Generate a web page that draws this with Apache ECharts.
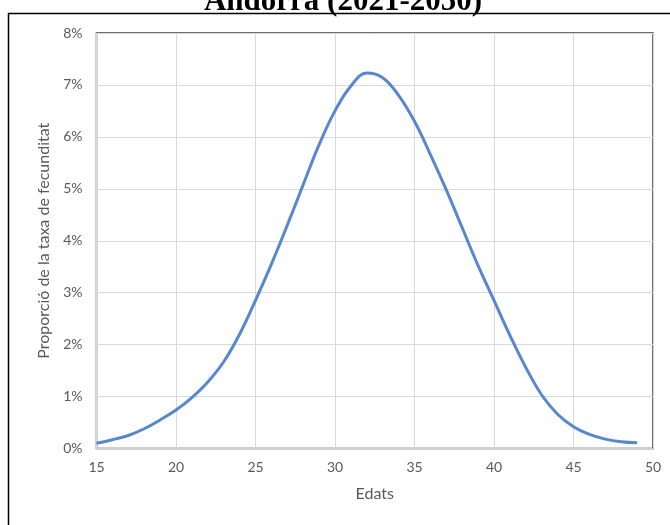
<!DOCTYPE html>
<html>
<head>
    <meta charset="UTF-8">
    <title>Andorra (2021-2050)</title>
    <script src="https://cdnjs.cloudflare.com/ajax/libs/echarts/6.0.0/echarts.min.js"></script>
    <style>
        html, body { margin: 0; padding: 0; background: #fff; }
    </style>
</head>
<body>
    <div id="main" style="width: 670px; height: 525px;"></div>

    <script>
        // Edats (15..49) i proporció de la taxa de fecunditat (%)
        var ages = [15, 16, 17, 18, 19, 20, 21, 22, 23, 24, 25, 26, 27, 28, 29, 30, 31, 32,
                    33, 34, 35, 36, 37, 38, 39, 40, 41, 42, 43, 44, 45, 46, 47, 48, 49];
        var share = [0.10, 0.17, 0.25, 0.38, 0.55, 0.74, 0.98, 1.28, 1.67, 2.20, 2.85, 3.55,
                     4.30, 5.08, 5.85, 6.50, 6.98, 7.23, 7.14, 6.80, 6.30, 5.66, 4.98, 4.25,
                     3.52, 2.85, 2.18, 1.56, 1.03, 0.66, 0.42, 0.27, 0.18, 0.13, 0.11];
        var xTicks = [15, 50, 5];   // min, max, interval
        var yTicks = [0, 8, 1];

        var chartTitle = 'Andorra (2021-2050)';
        var xName = 'Edats';
        var yName = 'Proporció de la taxa de fecunditat';

        var seriesData = ages.map(function (a, i) { return [a, share[i]]; });

        var labelFont = 'Lato, "Open Sans", sans-serif';
        var myChart = echarts.init(document.getElementById('main'));

        var option = {
            animation: false,
            backgroundColor: '#fff',
            graphic: [
                {
                    type: 'rect',
                    silent: true,
                    shape: { x: 8.5, y: 13.5, width: 700, height: 600 },
                    style: { fill: 'none', stroke: '#000', lineWidth: 1.5 }
                },
                {
                    type: 'text',
                    silent: true,
                    x: 343,
                    y: 2,
                    style: {
                        text: chartTitle,
                        font: 'bold 31px "Liberation Serif", "DejaVu Serif", serif',
                        fill: '#000',
                        align: 'center',
                        verticalAlign: 'middle'
                    }
                }
            ],
            grid: {
                left: 96.5,
                right: 17,
                top: 33,
                bottom: 76.5,
                show: true,
                borderColor: '#404040',
                borderWidth: 1.5,
                backgroundColor: 'transparent'
            },
            xAxis: {
                type: 'value',
                min: xTicks[0],
                max: xTicks[1],
                interval: xTicks[2],
                name: xName,
                nameLocation: 'middle',
                nameGap: 37,
                nameTextStyle: { color: '#595959', fontSize: 16, fontFamily: labelFont },
                axisLine: { show: true, lineStyle: { color: '#d0d0d0', width: 1.5 } },
                axisTick: { show: false },
                axisLabel: { color: '#595959', fontSize: 14, fontFamily: labelFont, margin: 12 },
                splitLine: { show: true, lineStyle: { color: '#d9d9d9', width: 1 } }
            },
            yAxis: {
                type: 'value',
                min: yTicks[0],
                max: yTicks[1],
                interval: yTicks[2],
                name: yName,
                nameLocation: 'middle',
                nameGap: 43,
                nameTextStyle: { color: '#595959', fontSize: 16, fontFamily: labelFont },
                axisLine: { show: false },
                axisTick: { show: false },
                axisLabel: { color: '#595959', fontSize: 14, fontFamily: labelFont, margin: 14, formatter: '{value}%' },
                splitLine: { show: true, lineStyle: { color: '#d9d9d9', width: 1 } }
            },
            series: [
                {
                    type: 'line',
                    data: seriesData,
                    smooth: 0.4,
                    showSymbol: false,
                    symbol: 'none',
                    lineStyle: { color: '#5687cf', width: 3 },
                    z: 5
                }
            ]
        };
        myChart.setOption(option);
    </script>
</body>
</html>
